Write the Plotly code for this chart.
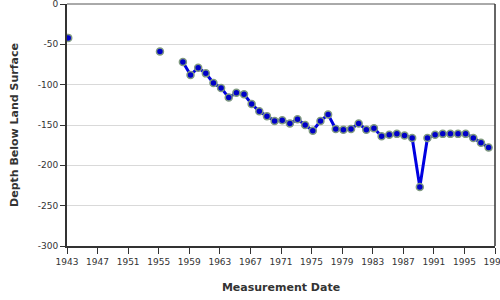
import plotly.graph_objects as go

# Measurement dates (None rows break the line between non-consecutive surveys)
dates = ["1943-03-01", "1949-01-01", "1955-03-01", "1957-01-01"] + [f"{y}-03-01" for y in range(1958, 1999)]
depths = [-42, None, -59, None,
          -72, -88, -79, -86, -98, -104, -116, -110, -112, -124,
          -133, -139, -145, -144, -148, -143, -150, -157, -145, -137,
          -155, -156, -155, -148, -156, -154, -164, -162, -161, -163,
          -166, -227, -166, -162, -161, -161, -161, -161, -166, -172, -178]

x_ticks = [f"{y}-01-01" for y in range(1943, 2000, 4)]
x_tick_text = [str(y) for y in range(1943, 2000, 4)]
y_ticks = [0, -50, -100, -150, -200, -250, -300]
y_tick_text = ["0", "-50", "-100", "-150", "-200", "-250", "-300"]

fig = go.Figure()
fig.add_trace(go.Scatter(
    x=dates, y=depths, mode="lines+markers", connectgaps=False,
    line=dict(color="#0000e0", width=3),
    marker=dict(color="#0000c8", size=7, line=dict(color="#809a80", width=1.5)),
    hoverinfo="x+y", showlegend=False,
))

axis_font = dict(family="DejaVu Sans", size=9, color="#333333")
title_font = dict(family="DejaVu Sans", size=11, color="#333333")

fig.update_layout(
    width=500, height=300,
    margin=dict(l=67, r=5, t=4, b=54),
    paper_bgcolor="white", plot_bgcolor="white",
    font=dict(family="DejaVu Sans"),
    xaxis=dict(
        type="date", range=["1943-01-01", "1999-01-01"],
        tickvals=x_ticks, ticktext=x_tick_text, tickfont=axis_font,
        ticklabeloverflow="allow",
        ticks="outside", ticklen=6, tickcolor="#333333", tickwidth=1,
        showgrid=False, zeroline=False,
        showline=True, linecolor="#333333", linewidth=2, mirror=False,
        title=dict(text="<b>Measurement Date</b>", font=title_font, standoff=18),
        automargin=False,
    ),
    yaxis=dict(
        range=[-300, 0], tickvals=y_ticks, ticktext=y_tick_text, tickfont=axis_font,
        ticklabeloverflow="allow",
        ticks="outside", ticklen=5, tickcolor="#333333", tickwidth=1,
        showgrid=True, gridcolor="#d9d9d9", gridwidth=1, zeroline=False,
        showline=True, linecolor="#333333", linewidth=2,
        title=dict(text="<b>Depth Below Land Surface</b>", font=title_font, standoff=17),
        automargin=False,
    ),
    shapes=[
        dict(type="line", xref="paper", yref="paper", x0=0, x1=1, y0=1, y1=1,
             line=dict(color="#555555", width=1)),
        dict(type="line", xref="paper", yref="paper", x0=1, x1=1, y0=0, y1=1,
             line=dict(color="#333333", width=1.5)),
    ],
)

fig.write_html("out.html")
